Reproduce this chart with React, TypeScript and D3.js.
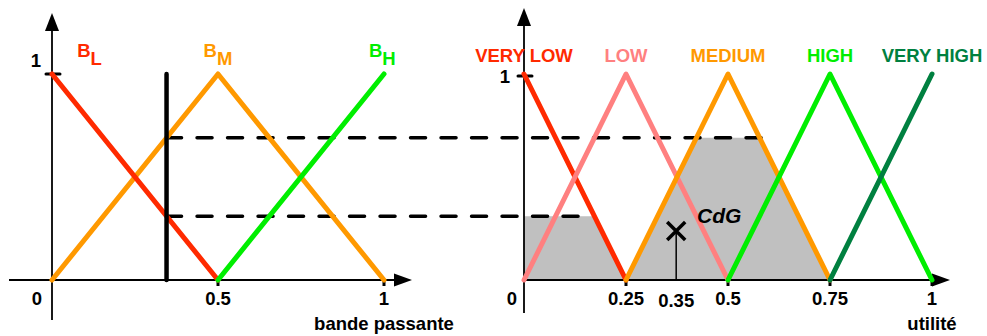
import React from "react";
import * as d3 from "d3";

// ---- data ----
const bandNames = ["L", "M", "H"];
const bandLow: [number, number][] = [[0, 1], [0.5, 0]];
const bandMed: [number, number][] = [[0, 0], [0.5, 1], [1, 0]];
const bandHigh: [number, number][] = [[0.5, 0], [1, 1]];

const utilTerms = ["VERY LOW", "LOW", "MEDIUM", "HIGH", "VERY HIGH"];
const utilVeryLow: [number, number][] = [[0, 1], [0.25, 0]];
const utilLow: [number, number][] = [[0, 0], [0.25, 1], [0.5, 0]];
const utilMedium: [number, number][] = [[0.25, 0], [0.5, 1], [0.75, 0]];
const utilHigh: [number, number][] = [[0.5, 0], [0.75, 1], [1, 0]];
const utilVeryHigh: [number, number][] = [[0.75, 0], [1, 1]];

const bandTickValues = [0, 0.5, 1];
const bandTickLabels = ["0", "0.5", "1"];
const utilTickValues = [0, 0.25, 0.5, 0.75, 1];
const utilTickLabels = ["0", "0.25", "0.5", "0.75", "1"];

const bandwidthInput = 0.345;
const cdgLabel = "0.35";
const cdgDrawnAt = 0.373;

// ---- style ----
const FONT = "'Liberation Sans', Arial, Helvetica, sans-serif";
const FS = 18.5;
const bandColors = ["#ff2a00", "#ff9900", "#00ee00"];
const utilColors = ["#ff2a00", "#ff8080", "#ff9900", "#00ee00", "#008040"];

function mu(pts: [number, number][], x: number): number {
  if (x < pts[0][0] || x > pts[pts.length - 1][0]) return 0;
  for (let i = 0; i < pts.length - 1; i++) {
    const [x0, y0] = pts[i];
    const [x1, y1] = pts[i + 1];
    if (x >= x0 && x <= x1) return x1 === x0 ? y0 : y0 + ((y1 - y0) * (x - x0)) / (x1 - x0);
  }
  return 0;
}

export default function App() {
  const W = 987, H = 336;
  const xL = d3.scaleLinear().domain([0, 1]).range([52, 384]);
  const xR = d3.scaleLinear().domain([0, 1]).range([524, 932]);
  const y = d3.scaleLinear().domain([0, 1]).range([280, 74]);

  const line = (sx: d3.ScaleLinear<number, number>) =>
    d3.line<[number, number]>().x((d) => sx(d[0])).y((d) => y(d[1]));

  const degLow = mu(bandLow, bandwidthInput);
  const degMed = mu(bandMed, bandwidthInput);

  const samples = d3.range(0, 1.0005, 0.001).map((x) => {
    const v = Math.max(Math.min(mu(utilVeryLow, x), degLow), Math.min(mu(utilMedium, x), degMed));
    return [x, v] as [number, number];
  });
  const area = d3
    .area<[number, number]>()
    .x((d) => xR(d[0]))
    .y0(y(0))
    .y1((d) => y(d[1]));

  const bandCurves = [bandLow, bandMed, bandHigh];
  const utilCurves = [utilVeryLow, utilLow, utilMedium, utilHigh, utilVeryHigh];
  const bandLabelAt = [0.113, 0.5, 0.995];

  const y0 = y(0);
  const arrowUp = (ax: number, tip: number) => `${ax},${tip} ${ax - 7},${tip + 18} ${ax + 7},${tip + 18}`;
  const arrowRight = (tip: number, ay: number) => `${tip},${ay} ${tip - 18},${ay - 6.5} ${tip - 18},${ay + 6.5}`;

  const vx = xL(bandwidthInput);

  return (
    <svg
      width={W}
      height={H}
      style={{ position: "absolute", left: 0, top: 0, background: "#fff" }}
      fontFamily={FONT}
    >
      {/* fill */}
      <path d={area(samples) || ""} fill="#c0c0c0" />

      {/* LEFT axes */}
      <line x1={xL(0)} x2={xL(0)} y1={320} y2={25} stroke="#000" strokeWidth={1.8} />
      <polygon points={arrowUp(xL(0), 13)} fill="#000" />
      <line x1={9} x2={400} y1={y0} y2={y0} stroke="#000" strokeWidth={1.8} />
      <polygon points={arrowRight(412, y0)} fill="#000" />
      <line x1={xL(0) - 6} x2={xL(0) + 8} y1={y(1)} y2={y(1)} stroke="#000" strokeWidth={3} strokeLinecap="round" />
      {bandTickValues.slice(1).map((v) => (
        <line key={v} x1={xL(v)} x2={xL(v)} y1={y0} y2={y0 + 6} stroke="#000" strokeWidth={3} />
      ))}

      {/* RIGHT axes */}
      <line x1={xR(0)} x2={xR(0)} y1={313} y2={20} stroke="#000" strokeWidth={1.8} />
      <polygon points={arrowUp(xR(0), 8)} fill="#000" />
      <line x1={xR(0)} x2={940} y1={y0} y2={y0} stroke="#000" strokeWidth={1.8} />
      <polygon points={arrowRight(950, y0)} fill="#000" />
      <line x1={xR(0) - 6} x2={xR(0) + 8} y1={y(1) + 2} y2={y(1) + 2} stroke="#000" strokeWidth={3} strokeLinecap="round" />
      {utilTickValues.slice(1).map((v) => (
        <line key={v} x1={xR(v)} x2={xR(v)} y1={y0} y2={y0 + 6} stroke="#000" strokeWidth={3} />
      ))}

      {/* dashed projections */}
      <line x1={vx} x2={xR(0.586)} y1={y(degMed)} y2={y(degMed)} stroke="#000" strokeWidth={3.5}
        strokeDasharray="15 15.5" strokeLinecap="round" />
      <line x1={vx} x2={xR(0.142)} y1={y(degLow)} y2={y(degLow)} stroke="#000" strokeWidth={3.5}
        strokeDasharray="15 15.5" strokeLinecap="round" />

      {/* LEFT curves */}
      {[1, 0, 2].map((i) => (
        <path key={i} d={line(xL)(bandCurves[i]) || ""} fill="none" stroke={bandColors[i]} strokeWidth={5}
          strokeLinecap="round" strokeLinejoin="round" />
      ))}
      <line x1={vx} x2={vx} y1={y(1)} y2={y0} stroke="#000" strokeWidth={4.5} strokeLinecap="round" />

      {/* RIGHT curves */}
      {utilCurves.map((c, i) => (
        <path key={i} d={line(xR)(c) || ""} fill="none" stroke={utilColors[i]} strokeWidth={5}
          strokeLinecap="round" strokeLinejoin="round" />
      ))}

      {/* CdG */}
      <line x1={xR(cdgDrawnAt)} x2={xR(cdgDrawnAt)} y1={231} y2={y0} stroke="#000" strokeWidth={1.5} />
      <path
        d={`M${xR(cdgDrawnAt) - 9},${222} L${xR(cdgDrawnAt) + 9},${240} M${xR(cdgDrawnAt) + 9},${222} L${xR(cdgDrawnAt) - 9},${240}`}
        stroke="#000" strokeWidth={3.5} fill="none" />
      <text x={697} y={223} fontSize={21} fontWeight="bold" fontStyle="italic">CdG</text>

      {/* LEFT labels */}
      {bandNames.map((n, i) => (
        <text key={n} x={xL(bandLabelAt[i])} y={57} fontSize={FS} fontWeight="bold" fill={bandColors[i]} textAnchor="middle">
          B<tspan dy={8}>{n}</tspan>
        </text>
      ))}
      <text x={36} y={67} fontSize={FS} fontWeight="bold" textAnchor="middle">1</text>
      {bandTickValues.map((v, i) => (
        <text key={v} x={i === 0 ? xL(v) - 15 : xL(v)} y={305} fontSize={FS} fontWeight="bold" textAnchor="middle">
          {bandTickLabels[i]}
        </text>
      ))}
      <text x={xL(1)} y={330} fontSize={FS} fontWeight="bold" textAnchor="middle">bande passante</text>

      {/* RIGHT labels */}
      {utilTerms.map((t, i) => (
        <text key={t} x={xR(i * 0.25)} y={62} fontSize={FS} fontWeight="bold" fill={utilColors[i]} textAnchor="middle">
          {t}
        </text>
      ))}
      <text x={505} y={83} fontSize={FS} fontWeight="bold" textAnchor="middle">1</text>
      {utilTickValues.map((v, i) => (
        <text key={v} x={i === 0 ? xR(v) - 12 : xR(v)} y={305} fontSize={FS} fontWeight="bold" textAnchor="middle">
          {utilTickLabels[i]}
        </text>
      ))}
      <text x={xR(cdgDrawnAt)} y={307} fontSize={FS} fontWeight="bold" textAnchor="middle">{cdgLabel}</text>
      <text x={xR(1)} y={330} fontSize={FS} fontWeight="bold" textAnchor="middle">utilité</text>
    </svg>
  );
}
